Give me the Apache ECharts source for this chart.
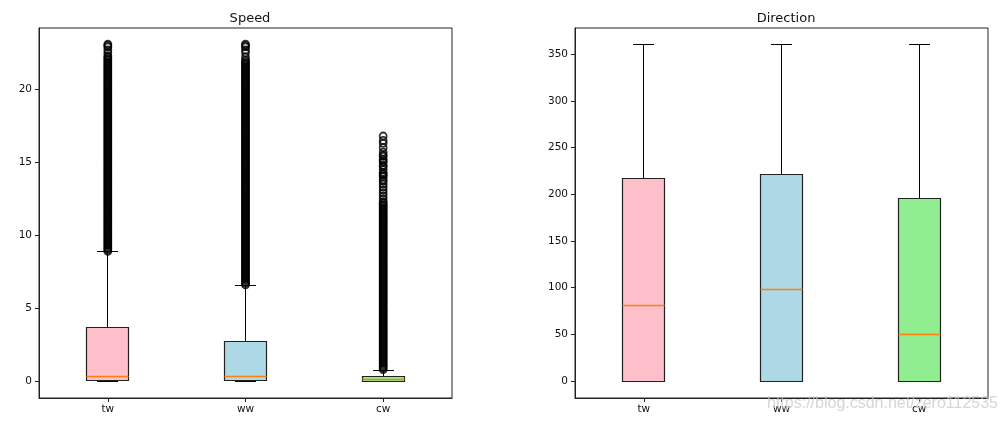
<!DOCTYPE html>
<html>
<head>
<meta charset="utf-8">
<script src="https://cdn.jsdelivr.net/npm/echarts@6/dist/echarts.min.js"></script>
<style>html,body{margin:0;padding:0;background:#fff}#c{width:1007px;height:423px}</style>
</head>
<body>
<div id="c"></div>
<script>
// ---------- data ----------
const categories = ['tw', 'ww', 'cw'];
const boxColors = ['#FFC0CB', '#ADD8E6', '#90EE90'];

// Speed box statistics
const speedLow    = [0.0, 0.0, 0.0];
const speedQ1     = [0.07, 0.07, 0.0];
const speedMedian = [0.3, 0.3, 0.12];
const speedQ3     = [3.65, 2.7, 0.32];
const speedHigh   = [8.9, 6.57, 0.75];

// Direction box statistics
const dirLow    = [0, 0, 0];
const dirQ1     = [0, 0, 0];
const dirMedian = [81, 98, 50];
const dirQ3     = [217, 221, 195];
const dirHigh   = [360, 360, 360];

// Speed outliers (fliers)
const twOutliers = [
 8.9,9.0,9.1,9.2,9.3,9.4,9.5,9.6,9.7,9.8,9.9,
 10.0,10.1,10.2,10.3,10.4,10.5,10.6,10.7,10.8,10.9,
 11.0,11.1,11.2,11.3,11.4,11.5,11.6,11.7,11.8,11.9,
 12.0,12.1,12.2,12.3,12.4,12.5,12.6,12.7,12.8,12.9,
 13.0,13.1,13.2,13.3,13.4,13.5,13.6,13.7,13.8,13.9,
 14.0,14.1,14.2,14.3,14.4,14.5,14.6,14.7,14.8,14.9,
 15.0,15.1,15.2,15.3,15.4,15.5,15.6,15.7,15.8,15.9,
 16.0,16.1,16.2,16.3,16.4,16.5,16.6,16.7,16.8,16.9,
 17.0,17.1,17.2,17.3,17.4,17.5,17.6,17.7,17.8,17.9,
 18.0,18.1,18.2,18.3,18.4,18.5,18.6,18.7,18.8,18.9,
 19.0,19.1,19.2,19.3,19.4,19.5,19.6,19.7,19.8,19.9,
 20.0,20.1,20.2,20.3,20.4,20.5,20.6,20.7,20.8,20.9,
 21.0,21.1,21.2,21.3,21.4,21.5,21.6,21.7,21.8,21.9,
 22.0,22.1,22.2,22.3,22.5,22.7,22.9,23.0,23.1
];
const wwOutliers = [
 6.6,6.7,6.8,6.9,
 7.0,7.1,7.2,7.3,7.4,7.5,7.6,7.7,7.8,7.9,
 8.0,8.1,8.2,8.3,8.4,8.5,8.6,8.7,8.8,8.9,
 9.0,9.1,9.2,9.3,9.4,9.5,9.6,9.7,9.8,9.9,
 10.0,10.1,10.2,10.3,10.4,10.5,10.6,10.7,10.8,10.9,
 11.0,11.1,11.2,11.3,11.4,11.5,11.6,11.7,11.8,11.9,
 12.0,12.1,12.2,12.3,12.4,12.5,12.6,12.7,12.8,12.9,
 13.0,13.1,13.2,13.3,13.4,13.5,13.6,13.7,13.8,13.9,
 14.0,14.1,14.2,14.3,14.4,14.5,14.6,14.7,14.8,14.9,
 15.0,15.1,15.2,15.3,15.4,15.5,15.6,15.7,15.8,15.9,
 16.0,16.1,16.2,16.3,16.4,16.5,16.6,16.7,16.8,16.9,
 17.0,17.1,17.2,17.3,17.4,17.5,17.6,17.7,17.8,17.9,
 18.0,18.1,18.2,18.3,18.4,18.5,18.6,18.7,18.8,18.9,
 19.0,19.1,19.2,19.3,19.4,19.5,19.6,19.7,19.8,19.9,
 20.0,20.1,20.2,20.3,20.4,20.5,20.6,20.7,20.8,20.9,
 21.0,21.1,21.2,21.3,21.4,21.5,21.6,21.7,21.8,21.9,
 22.0,22.2,22.5,22.7,22.9,23.0,23.1
];
const cwOutliers = [
 0.8,0.9,
 1.0,1.1,1.2,1.3,1.4,1.5,1.6,1.7,1.8,1.9,
 2.0,2.1,2.2,2.3,2.4,2.5,2.6,2.7,2.8,2.9,
 3.0,3.1,3.2,3.3,3.4,3.5,3.6,3.7,3.8,3.9,
 4.0,4.1,4.2,4.3,4.4,4.5,4.6,4.7,4.8,4.9,
 5.0,5.1,5.2,5.3,5.4,5.5,5.6,5.7,5.8,5.9,
 6.0,6.1,6.2,6.3,6.4,6.5,6.6,6.7,6.8,6.9,
 7.0,7.1,7.2,7.3,7.4,7.5,7.6,7.7,7.8,7.9,
 8.0,8.1,8.2,8.3,8.4,8.5,8.6,8.7,8.8,8.9,
 9.0,9.1,9.2,9.3,9.4,9.5,9.6,9.7,9.8,9.9,
 10.0,10.1,10.2,10.3,10.4,10.5,10.6,10.7,10.8,10.9,
 11.0,11.1,11.2,11.3,11.4,11.5,11.6,11.7,11.8,11.9,
 12.0,12.1,12.2,12.3,12.5,12.7,12.9,13.1,13.3,13.5,13.7,13.8,
 14.0,14.1,14.2,14.3,14.5,14.7,14.8,15.0,15.1,15.2,15.4,15.5,15.7,
 16.0,16.3,16.5,16.8
];

// axis tick labels
const speedTicks = [0, 5, 10, 15, 20];
const dirTicks = [0, 50, 100, 150, 200, 250, 300, 350];
const titles = ['Speed', 'Direction'];

// ---------- build ----------
function boxData(low, q1, med, q3, high) {
  return categories.map((c, i) => [i, low[i], q1[i], med[i], q3[i], high[i]]);
}
function outlierData(lists) {
  const out = [];
  lists.forEach((arr, i) => arr.forEach(v => out.push([i, v])));
  return out;
}
const crisp = v => Math.round(v - 0.5) + 0.5;
function renderBox(params, api) {
  const x = api.value(0);
  const low = api.coord([x, api.value(1)]);
  const q1 = api.coord([x, api.value(2)]);
  const med = api.coord([x, api.value(3)]);
  const q3 = api.coord([x, api.value(4)]);
  const hi = api.coord([x, api.value(5)]);
  const band = api.size([1, 0])[0];
  const bw = Math.round(band * 0.305);
  const capw = Math.round(bw / 2);
  const cx = crisp(low[0]);
  const yl = crisp(low[1]), y1 = crisp(q1[1]), ym = crisp(med[1]), y3 = crisp(q3[1]), yh = crisp(hi[1]);
  const line = (x1, ya, x2, yb, color, w) => ({
    type: 'line',
    shape: { x1: x1, y1: ya, x2: x2, y2: yb },
    style: { stroke: color || '#000', lineWidth: w || 1 }
  });
  return {
    type: 'group',
    children: [
      line(cx, y3, cx, yh),
      line(cx, yl, cx, y1),
      line(cx - capw / 2, yh, cx + capw / 2, yh),
      line(cx - capw / 2, yl, cx + capw / 2, yl),
      {
        type: 'rect',
        shape: { x: cx - bw / 2, y: y3, width: bw, height: y1 - y3 },
        style: { fill: boxColors[params.dataIndex], stroke: '#222', lineWidth: 1.2 }
      },
      line(cx - bw / 2, ym, cx + bw / 2, ym, '#FF7F0E', 1.3)
    ]
  };
}

const txt = '#111';
const font = 'DejaVu Sans';
function xAxis(gi) {
  return {
    type: 'category', gridIndex: gi, data: categories, boundaryGap: true,
    axisLine: { show: true, onZero: false, lineStyle: { color: '#222', width: 1 } },
    axisTick: { show: true, alignWithLabel: true, length: 4, lineStyle: { color: '#222' } },
    axisLabel: { color: txt, fontSize: 10.5, fontFamily: font, margin: 6 },
    splitLine: { show: false }
  };
}
function yAxis(gi, min, max, ticks) {
  return {
    type: 'value', gridIndex: gi, min: min, max: max,
    axisLine: { show: true, lineStyle: { color: '#222', width: 1 } },
    axisTick: { show: true, length: 4, customValues: ticks, lineStyle: { color: '#222' } },
    axisLabel: { color: txt, fontSize: 10.5, fontFamily: font, margin: 7, customValues: ticks },
    splitLine: { show: false }
  };
}
const scatterStyle = {
  type: 'scatter', symbol: 'circle', symbolSize: 7, silent: true,
  itemStyle: { color: 'rgba(0,0,0,0)', borderColor: '#000', borderWidth: 1.8 },
  z: 5
};

const chart = echarts.init(document.getElementById('c'), null, { renderer: 'canvas' });
chart.setOption({
  animation: false,
  backgroundColor: '#fff',
  title: [
    { text: titles[0], left: 245, top: 7, textAlign: 'center',
      textStyle: { fontSize: 13, fontWeight: 'normal', color: txt, fontFamily: font } },
    { text: titles[1], left: 781, top: 7, textAlign: 'center',
      textStyle: { fontSize: 13, fontWeight: 'normal', color: txt, fontFamily: font } }
  ],
  grid: [
    { left: 39, right: 555, top: 28, bottom: 25, show: true, borderColor: '#222', borderWidth: 1, backgroundColor: '#fff' },
    { left: 575, right: 19, top: 28, bottom: 25, show: true, borderColor: '#222', borderWidth: 1, backgroundColor: '#fff' }
  ],
  xAxis: [xAxis(0), xAxis(1)],
  yAxis: [yAxis(0, -1.15, 24.2, speedTicks), yAxis(1, -18, 378, dirTicks)],
  series: [
    { type: 'custom', xAxisIndex: 0, yAxisIndex: 0, renderItem: renderBox,
      encode: { x: 0, y: [1, 2, 3, 4, 5] },
      data: boxData(speedLow, speedQ1, speedMedian, speedQ3, speedHigh), z: 3 },
    Object.assign({}, scatterStyle, { xAxisIndex: 0, yAxisIndex: 0,
      data: outlierData([twOutliers, wwOutliers, cwOutliers]) }),
    { type: 'custom', xAxisIndex: 1, yAxisIndex: 1, renderItem: renderBox,
      encode: { x: 0, y: [1, 2, 3, 4, 5] },
      data: boxData(dirLow, dirQ1, dirMedian, dirQ3, dirHigh), z: 3 }
  ],
  graphic: [
    { type: 'text', left: 767, top: 396, z: 100, silent: true,
      style: { text: 'https://blog.csdn.net/zero112535', fontSize: 16, fontFamily: 'Liberation Sans',
        fill: 'rgba(200,200,200,0.75)' } }
  ]
});
</script>
</body>
</html>
